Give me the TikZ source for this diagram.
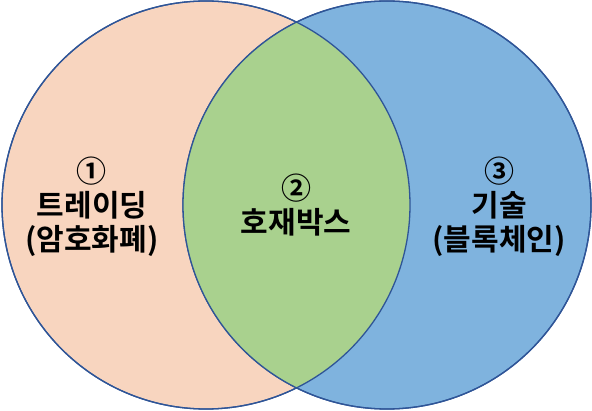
\documentclass[tikz,border=0pt]{standalone}
\usepackage{fontspec}
\newfontfamily\kofont{Noto Sans CJK KR Bold}
\usepackage{tikz}
\usetikzlibrary{positioning}
\definecolor{peach}{HTML}{F8D5BF}
\definecolor{skyblue}{HTML}{7FB3DE}
\definecolor{leafgreen}{HTML}{A9D18E}
\definecolor{rimblue}{HTML}{2F5597}

\begin{document}
\begin{tikzpicture}[x=1pt,y=-1pt,
          setcircle/.style = {circle, draw=rimblue, line width=1.3pt, minimum size=408pt, inner sep=0pt},
          setlabel/.style = {align=center, text centered, font=\kofont\fontsize{30}{34}\selectfont, text=black}]
        \useasboundingbox (0,0) rectangle (592,411);
        \node [setcircle, fill=peach] (trade) at (206,205) {};
        \node [setcircle, fill=skyblue] (tech) at (387,205) {};
        \begin{scope}
            \clip (206,205) circle (204pt);
            \fill [leafgreen] (387,205) circle (204pt);
        \end{scope}
        \node [setcircle] at (trade.center) {};
        \node [setcircle] at (tech.center) {};
        \node [setlabel] (tradetext) at (92,207) {①\\트레이딩\\(암호화폐)};
        \node [setlabel] (boxtext) at (296,205) {②\\호재박스};
        \node [setlabel] (techtext) at (499,207) {③\\기술\\(블록체인)};
\end{tikzpicture}
\end{document}
